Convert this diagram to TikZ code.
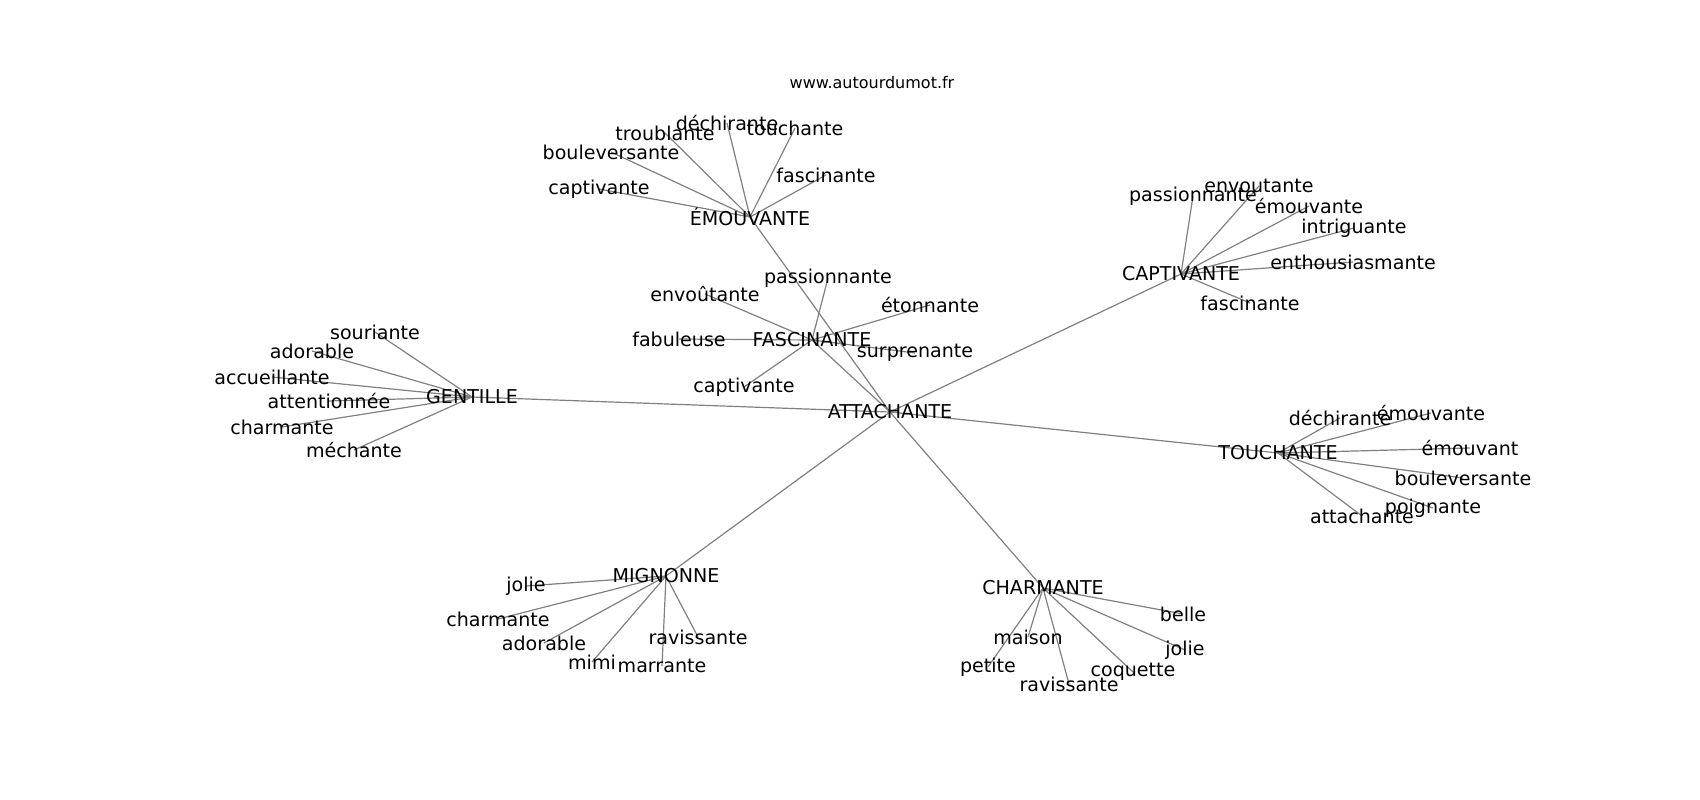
\documentclass[tikz,border=0pt]{standalone}
\usepackage{fontspec}
\setmainfont{DejaVu Sans}
\begin{document}
\begin{tikzpicture}[x=0.75pt,y=-0.75pt,
  lbl/.style={inner sep=0pt,font=\fontsize{14.3pt}{16pt}\selectfont,text=black},
  ttl/.style={inner sep=0pt,font=\fontsize{12pt}{14pt}\selectfont,text=black},
  edge/.style={draw=black!50,line width=0.9pt}]
\useasboundingbox (0,0) rectangle (1700,800);
% hubs
\coordinate (pATT) at (890,412);
\coordinate (pGEN) at (472,397);
\coordinate (pEMO) at (750,217);
\coordinate (pFAS) at (812,340);
\coordinate (pCAP) at (1181,274);
\coordinate (pTOU) at (1278,453);
\coordinate (pMIG) at (666,576);
\coordinate (pCHA) at (1043,588);
% leaves
\coordinate (g1) at (375,332);
\coordinate (g2) at (312,351);
\coordinate (g3) at (272,377);
\coordinate (g4) at (329,401);
\coordinate (g5) at (282,427);
\coordinate (g6) at (354,450);
\coordinate (e1) at (665,133);
\coordinate (e2) at (727,123);
\coordinate (e3) at (795,128);
\coordinate (e4) at (611,152);
\coordinate (e5) at (599,189);
\coordinate (e6) at (826,175);
\coordinate (f1) at (828,278);
\coordinate (f2) at (705,294);
\coordinate (f3) at (679,339);
\coordinate (f4) at (930,305);
\coordinate (f5) at (915,353);
\coordinate (f6) at (744,387);
\coordinate (c1) at (1193,196);
\coordinate (c2) at (1259,186);
\coordinate (c3) at (1309,206);
\coordinate (c4) at (1354,228);
\coordinate (c5) at (1353,262);
\coordinate (c6) at (1250,303);
\coordinate (t1) at (1340,418);
\coordinate (t2) at (1431,413);
\coordinate (t3) at (1470,448);
\coordinate (t4) at (1463,478);
\coordinate (t5) at (1433,508);
\coordinate (t6) at (1362,516);
\coordinate (m1) at (526,586);
\coordinate (m2) at (498,619);
\coordinate (m3) at (544,643);
\coordinate (m4) at (592,662);
\coordinate (m5) at (662,666);
\coordinate (m6) at (698,637);
\coordinate (h1) at (1183,614);
\coordinate (h2) at (1185,650);
\coordinate (h3) at (1133,672);
\coordinate (h4) at (1069,684);
\coordinate (h5) at (988,667);
\coordinate (h6) at (1028,637);
% edges
\foreach \h in {pGEN,pEMO,pFAS,pCAP,pTOU,pMIG,pCHA} \draw[edge] (pATT) -- (\h);
\foreach \l in {g1,g2,g3,g4,g5,g6} \draw[edge] (pGEN) -- (\l);
\foreach \l in {e1,e2,e3,e4,e5,e6} \draw[edge] (pEMO) -- (\l);
\foreach \l in {f1,f2,f3,f4,f5,f6} \draw[edge] (pFAS) -- (\l);
\foreach \l in {c1,c2,c3,c4,c5,c6} \draw[edge] (pCAP) -- (\l);
\foreach \l in {t1,t2,t3,t4,t5,t6} \draw[edge] (pTOU) -- (\l);
\foreach \l in {m1,m2,m3,m4,m5,m6} \draw[edge] (pMIG) -- (\l);
\foreach \l in {h1,h2,h3,h4,h5,h6} \draw[edge] (pCHA) -- (\l);
% labels
\node[ttl] (title) at (872,83) {www.autourdumot.fr};
\node[lbl] (ATT) at (pATT) {ATTACHANTE};
\node[lbl] (GEN) at (pGEN) {GENTILLE};
\node[lbl] (EMO) at (pEMO) {ÉMOUVANTE};
\node[lbl] (FAS) at (pFAS) {FASCINANTE};
\node[lbl] (CAP) at (pCAP) {CAPTIVANTE};
\node[lbl] (TOU) at (pTOU) {TOUCHANTE};
\node[lbl] (MIG) at (pMIG) {MIGNONNE};
\node[lbl] (CHA) at (pCHA) {CHARMANTE};
\node[lbl] (G1) at (g1) {souriante};
\node[lbl] (G2) at (g2) {adorable};
\node[lbl] (G3) at (g3) {accueillante};
\node[lbl] (G4) at (g4) {attentionnée};
\node[lbl] (G5) at (g5) {charmante};
\node[lbl] (G6) at (g6) {méchante};
\node[lbl] (E1) at (e1) {troublante};
\node[lbl] (E2) at (e2) {déchirante};
\node[lbl] (E3) at (e3) {touchante};
\node[lbl] (E4) at (e4) {bouleversante};
\node[lbl] (E5) at (e5) {captivante};
\node[lbl] (E6) at (e6) {fascinante};
\node[lbl] (F1) at (f1) {passionnante};
\node[lbl] (F2) at (f2) {envoûtante};
\node[lbl] (F3) at (f3) {fabuleuse};
\node[lbl] (F4) at (f4) {étonnante};
\node[lbl] (F5) at (f5) {surprenante};
\node[lbl] (F6) at (f6) {captivante};
\node[lbl] (C1) at (c1) {passionnante};
\node[lbl] (C2) at (c2) {envoutante};
\node[lbl] (C3) at (c3) {émouvante};
\node[lbl] (C4) at (c4) {intriguante};
\node[lbl] (C5) at (c5) {enthousiasmante};
\node[lbl] (C6) at (c6) {fascinante};
\node[lbl] (T1) at (t1) {déchirante};
\node[lbl] (T2) at (t2) {émouvante};
\node[lbl] (T3) at (t3) {émouvant};
\node[lbl] (T4) at (t4) {bouleversante};
\node[lbl] (T5) at (t5) {poignante};
\node[lbl] (T6) at (t6) {attachante};
\node[lbl] (M1) at (m1) {jolie};
\node[lbl] (M2) at (m2) {charmante};
\node[lbl] (M3) at (m3) {adorable};
\node[lbl] (M4) at (m4) {mimi};
\node[lbl] (M5) at (m5) {marrante};
\node[lbl] (M6) at (m6) {ravissante};
\node[lbl] (H1) at (h1) {belle};
\node[lbl] (H2) at (h2) {jolie};
\node[lbl] (H3) at (h3) {coquette};
\node[lbl] (H4) at (h4) {ravissante};
\node[lbl] (H5) at (h5) {petite};
\node[lbl] (H6) at (h6) {maison};
\end{tikzpicture}
\end{document}
